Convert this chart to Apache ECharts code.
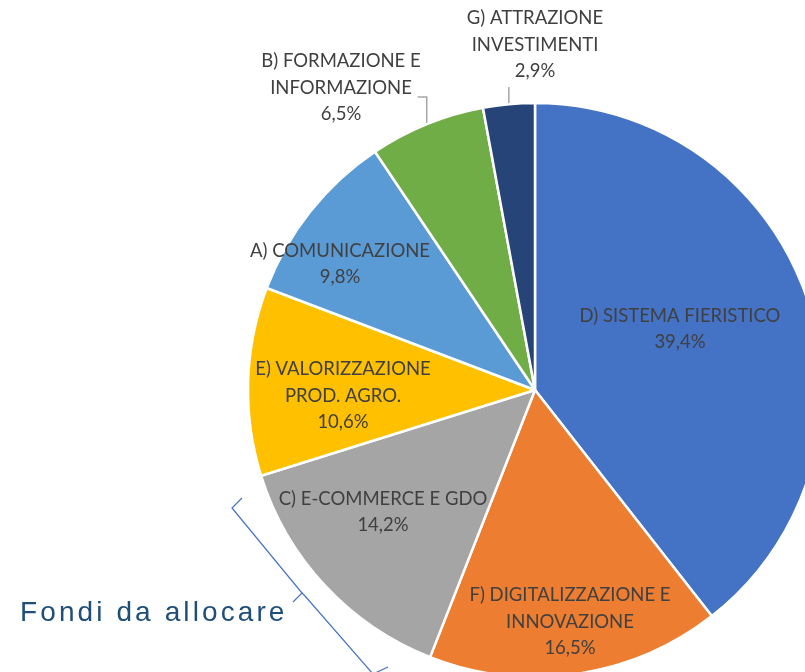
<!DOCTYPE html>
<html>
<head>
<meta charset="utf-8">
<script src="https://cdn.jsdelivr.net/npm/echarts@6/dist/echarts.min.js"></script>
<style>
html,body{margin:0;padding:0;background:#fff;}
#chart{width:805px;height:672px;}
</style>
</head>
<body>
<div id="chart"></div>
<script>
// ---- data ----
const categories = [
  'D) SISTEMA FIERISTICO',
  'F) DIGITALIZZAZIONE E\nINNOVAZIONE',
  'C) E-COMMERCE E GDO',
  'E) VALORIZZAZIONE\nPROD. AGRO.',
  'A) COMUNICAZIONE',
  'B) FORMAZIONE E\nINFORMAZIONE',
  'G) ATTRAZIONE\nINVESTIMENTI'
];
const shares = [39.4, 16.5, 14.2, 10.6, 9.8, 6.5, 2.9];
const sliceColors = ['#4472C4', '#ED7D31', '#A5A5A5', '#FFC000', '#5B9BD5', '#70AD47', '#264478'];
const outsideLabel = [false, false, false, false, false, true, true];
// label centre offsets from the pie centre (px)
const labelOffsets = [[145, -61], [35, 232], [-152, 122], [-192, 6], [-195, -126], [-194, -302], [0, -345]];
const annotationText = 'Fondi da allocare';

// ---- layout ----
const CX = 535, CY = 390, R = 287;

const chart = echarts.init(document.getElementById('chart'), null, {renderer: 'canvas'});

const total = shares.reduce((a, b) => a + b, 0);
function midAngle(i) {
  let before = 0;
  for (let k = 0; k < i; k++) before += shares[k];
  const frac = (before + shares[i] / 2) / total;
  return frac * 2 * Math.PI; // clockwise from top
}

const data = categories.map((name, i) => ({
  name: name,
  value: shares[i],
  itemStyle: {color: sliceColors[i]},
  label: {position: outsideLabel[i] ? 'outside' : 'inside'},
  labelLine: {show: outsideLabel[i]}
}));

// spaced-out annotation text built as rich tokens
const annotationRich = annotationText.split('').map(ch => '{c|' + ch + '}').join('');

chart.setOption({
  animation: false,
  backgroundColor: '#ffffff',
  series: [{
    type: 'pie',
    center: [CX, CY],
    radius: [0, R],
    startAngle: 90,
    clockwise: true,
    avoidLabelOverlap: false,
    itemStyle: {borderColor: '#ffffff', borderWidth: 2.5},
    label: {
      show: true,
      color: '#404040',
      fontFamily: 'Lato',
      fontSize: 18.5,
      lineHeight: 26.5,
      align: 'center',
      formatter: p => p.name + '\n' + p.value.toFixed(1).replace('.', ',') + '%'
    },
    labelLine: {
      show: false,
      lineStyle: {color: '#A6A6A6', width: 1.5}
    },
    labelLayout: function (params) {
      const i = params.dataIndex;
      const lx = CX + labelOffsets[i][0];
      const ly = CY + labelOffsets[i][1];
      const res = {x: lx, y: ly, align: 'center', verticalAlign: 'middle'};
      if (outsideLabel[i]) {
        const a = midAngle(i);
        const ex = CX + R * Math.sin(a);
        const ey = CY - R * Math.cos(a);
        if (Math.abs(ex - lx) > 40) {
          res.labelLinePoints = [[ex, ey], [ex, ly + 9], [ex - 9, ly + 9]];
        } else {
          res.labelLinePoints = [[ex, ey], [ex, (ey + ly + 42) / 2], [ex, ly + 42]];
        }
      }
      return res;
    },
    data: data
  }],
  graphic: [
    {
      type: 'text',
      left: 20,
      top: 599,
      style: {
        text: annotationRich,
        rich: {
          c: {
            fill: '#1F4E79',
            fontFamily: 'Liberation Sans',
            fontSize: 28,
            padding: [0, 3.1, 0, 0]
          }
        }
      }
    },
    {
      type: 'polyline',
      shape: {points: [[242, 498], [232, 508], [302, 593], [293, 602]]},
      style: {stroke: '#4472C4', lineWidth: 1.2, fill: null}
    },
    {
      type: 'polyline',
      shape: {points: [[302, 593], [305, 596], [373, 674], [388, 667]]},
      style: {stroke: '#4472C4', lineWidth: 1.2, fill: null}
    }
  ]
});
</script>
</body>
</html>
